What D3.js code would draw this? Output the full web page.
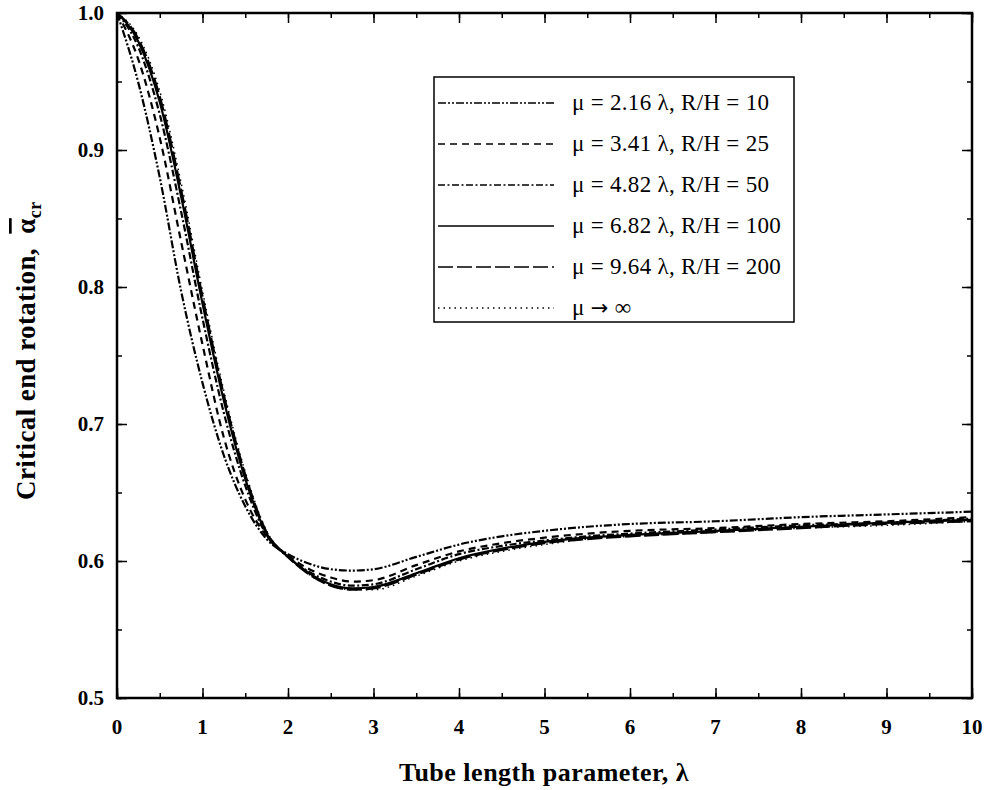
<!DOCTYPE html>
<html>
<head>
<meta charset="utf-8">
<script src="https://cdn.jsdelivr.net/npm/d3@7"></script>
<style>
  body { margin: 0; background: #fff; }
  text { font-family: "Liberation Serif", "DejaVu Serif", serif; fill: #000; }
</style>
</head>
<body>
<svg id="vis" width="986" height="790"></svg>
<script>
// tube length parameter values where the curves were read
const lambda = [0, 0.25, 0.5, 0.75, 1.0, 1.25, 1.5, 1.75, 2.0, 2.25, 2.5, 2.75, 3.0, 3.5, 4.0, 4.5, 5.0, 5.5, 6, 7, 8, 9, 10];

const mu216 = [1.0, 0.949, 0.880, 0.797, 0.730, 0.677, 0.640, 0.616, 0.605, 0.598, 0.594, 0.593, 0.594, 0.603, 0.612, 0.618, 0.622, 0.625, 0.627, 0.629, 0.632, 0.634, 0.636];
const mu341 = [1.0, 0.966, 0.909, 0.833, 0.758, 0.690, 0.645, 0.618, 0.604, 0.594, 0.588, 0.585, 0.586, 0.597, 0.607, 0.613, 0.617, 0.620, 0.622, 0.624, 0.627, 0.629, 0.632];
const mu482 = [1.0, 0.975, 0.926, 0.855, 0.777, 0.708, 0.655, 0.619, 0.603, 0.592, 0.585, 0.582, 0.583, 0.594, 0.605, 0.611, 0.615, 0.618, 0.620, 0.623, 0.626, 0.628, 0.631];
const mu682 = [1.0, 0.979, 0.935, 0.866, 0.788, 0.717, 0.660, 0.620, 0.603, 0.591, 0.583, 0.580, 0.581, 0.591, 0.602, 0.609, 0.614, 0.617, 0.619, 0.622, 0.625, 0.628, 0.630];
const mu964 = [1.0, 0.981, 0.939, 0.871, 0.793, 0.721, 0.663, 0.621, 0.603, 0.590, 0.582, 0.579, 0.580, 0.590, 0.601, 0.608, 0.613, 0.616, 0.618, 0.621, 0.624, 0.627, 0.629];
const muInf = [1.0, 0.983, 0.943, 0.876, 0.797, 0.724, 0.665, 0.622, 0.603, 0.590, 0.582, 0.579, 0.579, 0.589, 0.600, 0.607, 0.612, 0.616, 0.618, 0.621, 0.624, 0.626, 0.629];

const labels = ["\u03bc = 2.16 \u03bb, R/H = 10", "\u03bc = 3.41 \u03bb, R/H = 25", "\u03bc = 4.82 \u03bb, R/H = 50",
                "\u03bc = 6.82 \u03bb, R/H = 100", "\u03bc = 9.64 \u03bb, R/H = 200", "\u03bc \u2192 \u221e"];
const xTicks = [0, 1, 2, 3, 4, 5, 6, 7, 8, 9, 10];
const yTicks = [0.5, 0.6, 0.7, 0.8, 0.9, 1.0];

const series = [mu216, mu341, mu482, mu682, mu964, muInf];
const dashes = ["8,2,2,2,2,2", "7,5", "7,2.5,2,2.5", null, "15,4", "1.5,4"];

const svg = d3.select("#vis");
const margin = { top: 13, right: 972, bottom: 698, left: 117 };

const x = d3.scaleLinear().domain([0, 10]).range([margin.left, margin.right]);
const y = d3.scaleLinear().domain([0.5, 1.0]).range([margin.bottom, margin.top]);

const g = svg.append("g");

// ticks on all four sides, pointing inward
const minorX = d3.range(0, 10.01, 0.5);
const minorY = d3.range(0.5, 1.001, 0.05);

g.append("g")
  .attr("transform", `translate(0, ${margin.bottom})`)
  .call(d3.axisTop(x).tickValues(minorX).tickSize(5).tickFormat(""));
g.append("g")
  .attr("transform", `translate(0, ${margin.bottom})`)
  .call(d3.axisTop(x).tickValues(xTicks).tickSize(10).tickFormat(""));
g.append("g")
  .attr("transform", `translate(0, ${margin.top})`)
  .call(d3.axisBottom(x).tickValues(minorX).tickSize(5).tickFormat(""));
g.append("g")
  .attr("transform", `translate(0, ${margin.top})`)
  .call(d3.axisBottom(x).tickValues(xTicks).tickSize(10).tickFormat(""));
g.append("g")
  .attr("transform", `translate(${margin.left}, 0)`)
  .call(d3.axisRight(y).tickValues(minorY).tickSize(5).tickFormat(""));
g.append("g")
  .attr("transform", `translate(${margin.left}, 0)`)
  .call(d3.axisRight(y).tickValues(yTicks).tickSize(10).tickFormat(""));
g.append("g")
  .attr("transform", `translate(${margin.right}, 0)`)
  .call(d3.axisLeft(y).tickValues(minorY).tickSize(5).tickFormat(""));
g.append("g")
  .attr("transform", `translate(${margin.right}, 0)`)
  .call(d3.axisLeft(y).tickValues(yTicks).tickSize(10).tickFormat(""));

g.selectAll(".domain").remove();
g.selectAll(".tick line").attr("stroke", "#000").attr("stroke-width", 1.5);

// tick labels
g.selectAll(".xlab").data(xTicks).enter().append("text")
  .attr("x", d => x(d))
  .attr("y", margin.bottom + 36)
  .attr("text-anchor", "middle")
  .attr("font-size", 21)
  .attr("font-weight", "bold")
  .text(d => d);

g.selectAll(".ylab").data(yTicks).enter().append("text")
  .attr("x", margin.left - 13)
  .attr("y", d => y(d) + 7)
  .attr("text-anchor", "end")
  .attr("font-size", 21)
  .attr("font-weight", "bold")
  .text(d => d3.format(".1f")(d));

// frame
g.append("rect")
  .attr("x", margin.left).attr("y", margin.top)
  .attr("width", margin.right - margin.left)
  .attr("height", margin.bottom - margin.top)
  .attr("fill", "none").attr("stroke", "#000").attr("stroke-width", 2.5);

// curves
const line = d3.line()
  .x((d, i) => x(lambda[i]))
  .y(d => y(d))
  .curve(d3.curveMonotoneX);

series.forEach((s, i) => {
  g.append("path")
    .datum(s)
    .attr("fill", "none")
    .attr("stroke", "#000")
    .attr("stroke-width", i === 5 ? 1.5 : 2.2)
    .attr("stroke-dasharray", dashes[i])
    .attr("d", line);
});

// legend
const lg = g.append("g").attr("transform", "translate(434, 77)");
lg.append("rect")
  .attr("width", 360).attr("height", 245)
  .attr("fill", "#fff").attr("stroke", "#000").attr("stroke-width", 1.5);

labels.forEach((lab, i) => {
  const yy = 33 + i * 41;
  lg.append("line")
    .attr("x1", 4).attr("x2", 120)
    .attr("y1", yy - 7).attr("y2", yy - 7)
    .attr("stroke", "#000")
    .attr("stroke-width", i === 5 ? 1.3 : 1.6)
    .attr("stroke-dasharray", dashes[i]);
  const t = lg.append("text")
    .attr("x", 138).attr("y", yy)
    .attr("font-size", 23)
    .attr("letter-spacing", 0.3);
  // the arrow glyph of Liberation Serif is tiny, so take it from DejaVu
  lab.split(/(\u2192)/).forEach(part => {
    const sp = t.append("tspan").text(part);
    if (part === "\u2192") sp.attr("font-family", "DejaVu Sans").attr("font-size", 21);
  });
});

// axis titles
svg.append("text")
  .attr("x", 544)
  .attr("y", 781)
  .attr("text-anchor", "middle")
  .attr("font-size", 26)
  .attr("font-weight", "bold")
  .attr("letter-spacing", 0.5)
  .text("Tube length parameter, \u03bb");

const yt = svg.append("text")
  .attr("transform", "translate(35, 500) rotate(-90)")
  .attr("text-anchor", "start")
  .attr("font-size", 27)
  .attr("font-weight", "bold")
  .attr("letter-spacing", 0.4);
yt.append("tspan").text("Critical end rotation,\u00a0\u00a0");
yt.append("tspan").attr("text-decoration", "overline").text("\u03b1");
yt.append("tspan").attr("dy", 6).attr("font-size", 18).text("cr");
</script>
</body>
</html>
